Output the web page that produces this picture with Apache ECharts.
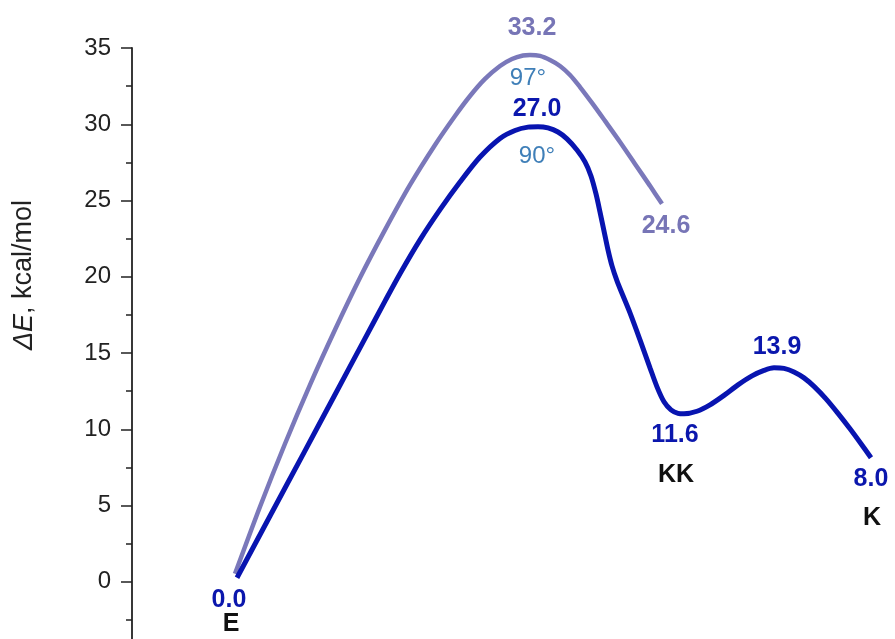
<!DOCTYPE html>
<html>
<head>
<meta charset="utf-8">
<script src="https://cdn.jsdelivr.net/npm/echarts@6/dist/echarts.min.js"></script>
<style>
html,body{margin:0;padding:0;background:#fff;}
#chart{width:895px;height:639px;}
</style>
</head>
<body>
<div id="chart"></div>
<script>
// Reaction coordinate (arbitrary units) and energy (kcal/mol)
const darkX = [10.5, 13.8, 17.2, 20.2, 23.2, 25.3, 26.8, 28.8, 30.8, 32.8, 34.8, 36.8, 38.3, 39.6, 40.6, 41.6, 42.6, 43.5, 44.5, 45.3, 45.9, 46.4, 46.8, 47.2, 47.6, 48.0, 48.5, 49.1, 49.8, 50.8, 51.8, 52.5, 53.2, 53.9, 54.6, 55.2, 56.5, 57.8, 59.2, 60.6, 62.0, 63.2, 64.2, 65.2, 66.2, 67.2, 68.2, 69.4, 70.6, 71.8, 72.9, 73.9];
const darkY = [0.26, 4.31, 8.47, 12.15, 15.83, 18.40, 20.20, 22.42, 24.40, 26.21, 27.85, 29.07, 29.59, 29.81, 29.84, 29.76, 29.49, 29.04, 28.31, 27.53, 26.61, 25.43, 24.25, 23.00, 21.76, 20.71, 19.73, 18.75, 17.63, 15.86, 14.03, 12.78, 11.80, 11.27, 11.04, 11.01, 11.18, 11.60, 12.22, 12.91, 13.50, 13.86, 14.03, 13.99, 13.76, 13.37, 12.81, 11.99, 11.04, 10.03, 9.05, 8.13];
const lightX = [10.3, 12.8, 15.3, 17.8, 20.3, 22.8, 25.3, 27.8, 30.3, 32.3, 33.8, 35.3, 36.8, 38.0, 39.1, 39.8, 40.8, 41.8, 42.8, 43.8, 44.8, 46.0, 47.3, 48.8, 50.3, 51.8, 53.0];
const lightY = [0.52, 4.92, 9.05, 12.91, 16.52, 19.93, 23.07, 26.02, 28.64, 30.54, 31.85, 32.97, 33.82, 34.28, 34.51, 34.54, 34.48, 34.21, 33.82, 33.23, 32.44, 31.40, 30.22, 28.84, 27.40, 25.96, 24.78];

// Annotations: text, position (data units), kind
const labelText = ['33.2', '97°', '27.0', '90°', '24.6', '13.9', '11.6', 'KK', '8.0', 'K', '0.0', 'E'];
const labelX    = [40.0, 39.6, 40.5, 40.5, 53.4, 64.5, 54.3, 54.4, 73.9, 74.0, 9.7, 9.9];
const labelY    = [36.3, 33.0, 31.0, 27.9, 23.3, 15.4, 9.6, 7.0, 6.7, 4.2, -1.2, -2.8];
const labelKind = ['light', 'angle', 'dark', 'angle', 'light', 'dark', 'dark', 'state', 'dark', 'state', 'dark', 'state'];

const yTicks = { min: -5, max: 35, interval: 5 };

const kindStyle = {
  light: { color: '#7775b6', fontWeight: 'bold', fontSize: 25 },
  dark:  { color: '#0b17ad', fontWeight: 'bold', fontSize: 25 },
  angle: { color: '#3f7fb8', fontWeight: 'normal', fontSize: 24 },
  state: { color: '#111111', fontWeight: 'bold', fontSize: 25 }
};

const zip = (xs, ys) => xs.map((x, i) => [x, ys[i]]);

const labelData = labelText.map((t, i) => ({
  value: [labelX[i], labelY[i]],
  name: t,
  label: Object.assign({
    show: true, position: 'inside', formatter: t,
    fontFamily: 'Liberation Sans, Arial, sans-serif',
    align: 'center', verticalAlign: 'middle', opacity: 1
  }, kindStyle[labelKind[i]])
}));

const chart = echarts.init(document.getElementById('chart'), null, { renderer: 'canvas' });
chart.setOption({
  animation: false,
  backgroundColor: '#ffffff',
  grid: { left: 132, width: 763, top: 48, height: 610, containLabel: false, outerBoundsMode: 'none' },
  xAxis: {
    type: 'value', min: 0, max: 76.3, show: false
  },
  yAxis: {
    type: 'value', min: yTicks.min, max: yTicks.max, interval: yTicks.interval,
    axisLine: { show: true, lineStyle: { color: '#222', width: 1.8 } },
    axisTick: { show: true, length: 11, inside: false, lineStyle: { color: '#222', width: 1.5 } },
    minorTick: { show: true, splitNumber: 2, length: 6, lineStyle: { color: '#222', width: 1.5 } },
    splitLine: { show: false },
    axisLabel: { color: '#222', fontSize: 24, margin: 21, fontFamily: 'Liberation Sans, Arial, sans-serif' }
  },
  graphic: [{
    type: 'text', x: 24, y: 275, rotation: Math.PI / 2,
    style: {
      text: '{i|ΔE}{n|, kcal/mol}',
      fill: '#222', font: '27px "Liberation Sans", Arial, sans-serif',
      align: 'center', verticalAlign: 'middle',
      rich: {
        i: { fontStyle: 'italic', fontSize: 27, fontFamily: 'Liberation Sans, Arial, sans-serif', fill: '#222' },
        n: { fontSize: 27, fontFamily: 'Liberation Sans, Arial, sans-serif', fill: '#222' }
      }
    }
  }],
  series: [
    {
      type: 'line', name: 'light', data: zip(lightX, lightY), smooth: 0.3,
      showSymbol: false, symbol: 'none', clip: false,
      lineStyle: { color: '#7a78ba', width: 4.5 }
    },
    {
      type: 'line', name: 'dark', data: zip(darkX, darkY), smooth: 0.3,
      showSymbol: false, symbol: 'none', clip: false,
      lineStyle: { color: '#0814b0', width: 5 }
    },
    {
      type: 'scatter', name: 'labels', data: labelData, symbolSize: 1, clip: false,
      itemStyle: { color: 'rgba(0,0,0,0)', opacity: 1 }, silent: true, z: 5
    }
  ]
});
</script>
</body>
</html>
